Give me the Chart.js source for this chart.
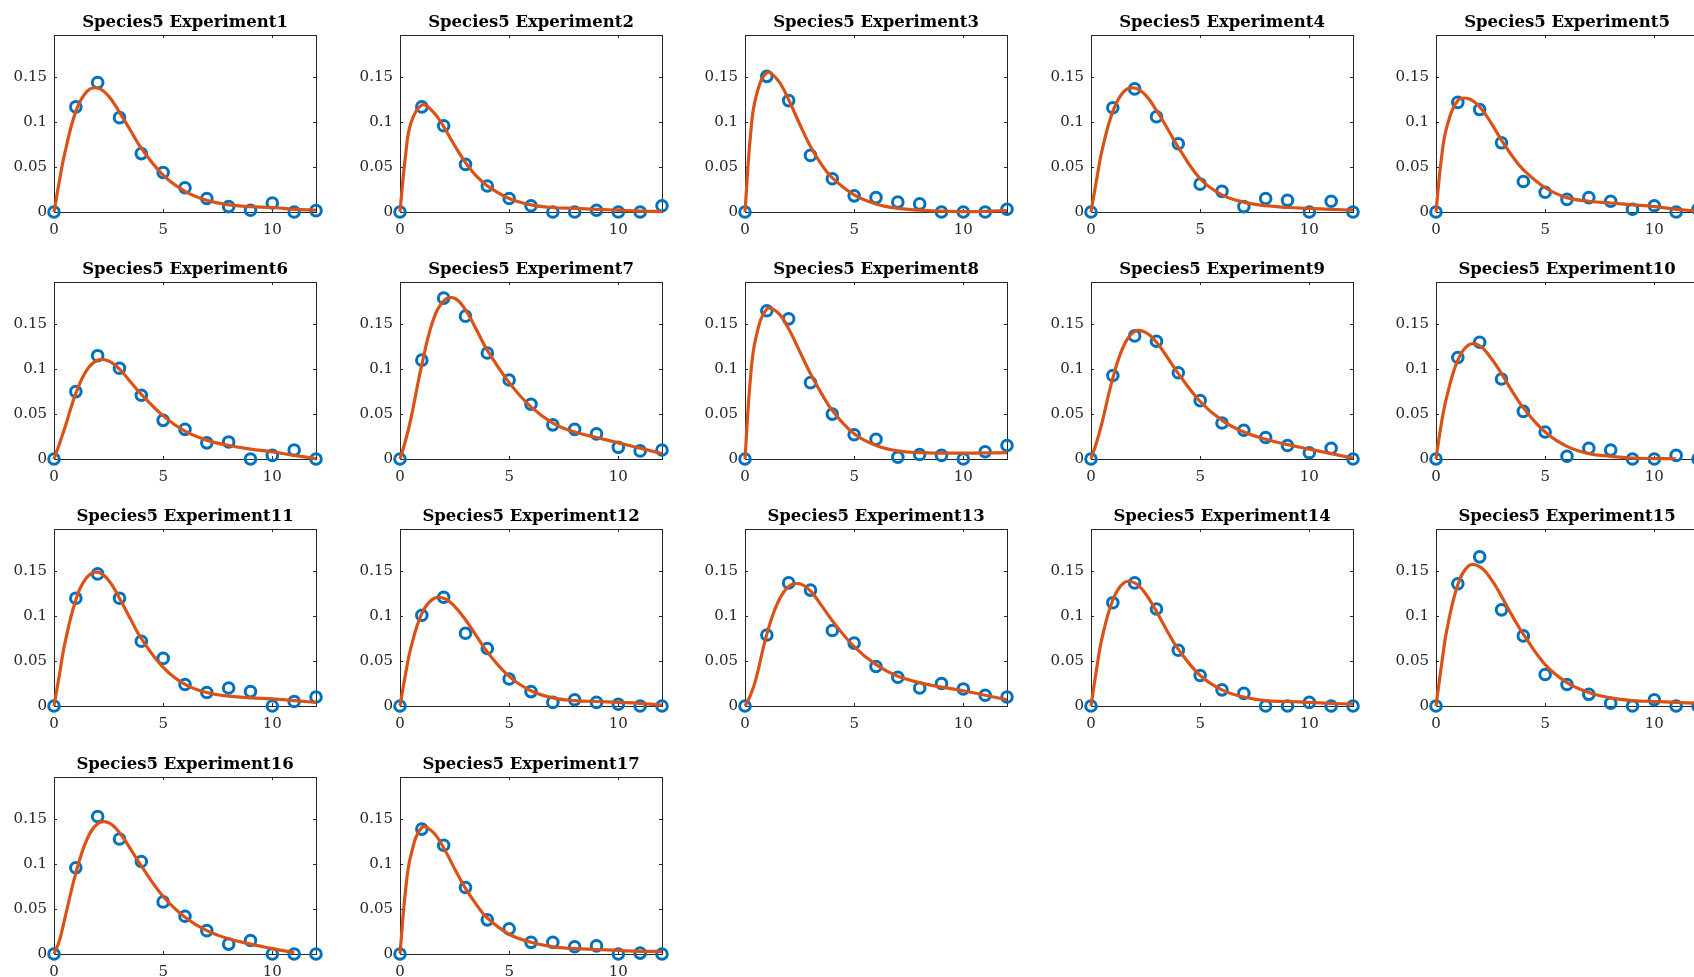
<!DOCTYPE html>
<html>
<head>
<meta charset="utf-8">
<script src="https://cdn.jsdelivr.net/npm/chart.js@4.4.0/dist/chart.umd.min.js"></script>
<style>
  html, body { margin: 0; padding: 0; background: #fff; overflow: hidden; }
  body { width: 1694px; height: 977px; position: relative; }
  canvas { position: absolute; }
</style>
</head>
<body>
<script>
// days of the measurements, and the days the fitted curve was read at
const days = [0, 1, 2, 3, 4, 5, 6, 7, 8, 9, 10, 11, 12];
const curveDays = [0, 0.25, 0.5, 1, 1.5, 2, 2.5, 3, 3.5, 4, 5, 6, 7, 8, 9, 10, 11, 12];
const xTicks = [0, 5, 10];
const yTicks = [0, 0.05, 0.1, 0.15];
const yMax = 0.197;

const titles = [
  "Species5 Experiment1", "Species5 Experiment2", "Species5 Experiment3",
  "Species5 Experiment4", "Species5 Experiment5", "Species5 Experiment6",
  "Species5 Experiment7", "Species5 Experiment8", "Species5 Experiment9",
  "Species5 Experiment10", "Species5 Experiment11", "Species5 Experiment12",
  "Species5 Experiment13", "Species5 Experiment14", "Species5 Experiment15",
  "Species5 Experiment16", "Species5 Experiment17"
];

// measured points (blue circles)
const obs1 = [0, 0.117, 0.144, 0.105, 0.065, 0.044, 0.027, 0.015, 0.006, 0.002, 0.010, 0, 0.0015];
const obs2 = [0, 0.117, 0.096, 0.053, 0.029, 0.015, 0.007, 0, 0, 0.002, 0, 0, 0.007];
const obs3 = [0, 0.151, 0.124, 0.063, 0.037, 0.018, 0.016, 0.011, 0.009, 0, 0, 0, 0.003];
const obs4 = [0, 0.116, 0.137, 0.106, 0.076, 0.031, 0.023, 0.006, 0.015, 0.013, 0, 0.012, 0];
const obs5 = [0, 0.122, 0.114, 0.077, 0.034, 0.022, 0.014, 0.016, 0.012, 0.003, 0.007, 0, 0.003];
const obs6 = [0, 0.075, 0.115, 0.101, 0.071, 0.043, 0.033, 0.018, 0.019, 0, 0.004, 0.010, 0];
const obs7 = [0, 0.110, 0.179, 0.159, 0.118, 0.088, 0.061, 0.038, 0.033, 0.028, 0.013, 0.009, 0.010];
const obs8 = [0, 0.165, 0.156, 0.085, 0.050, 0.027, 0.022, 0.002, 0.005, 0.004, 0, 0.008, 0.015];
const obs9 = [0, 0.093, 0.137, 0.131, 0.096, 0.065, 0.040, 0.032, 0.024, 0.015, 0.007, 0.012, 0];
const obs10 = [0, 0.113, 0.130, 0.089, 0.053, 0.030, 0.003, 0.012, 0.010, 0, 0, 0.004, 0];
const obs11 = [0, 0.120, 0.147, 0.120, 0.072, 0.053, 0.024, 0.015, 0.020, 0.016, 0, 0.005, 0.010];
const obs12 = [0, 0.101, 0.121, 0.081, 0.064, 0.030, 0.016, 0.004, 0.007, 0.004, 0.002, 0, 0];
const obs13 = [0, 0.079, 0.137, 0.129, 0.084, 0.070, 0.044, 0.032, 0.020, 0.025, 0.019, 0.012, 0.010];
const obs14 = [0, 0.115, 0.137, 0.108, 0.062, 0.034, 0.018, 0.014, 0, 0, 0.004, 0, 0];
const obs15 = [0, 0.136, 0.166, 0.107, 0.078, 0.035, 0.024, 0.013, 0.003, 0, 0.007, 0, 0];
const obs16 = [0, 0.096, 0.153, 0.128, 0.103, 0.058, 0.042, 0.026, 0.011, 0.015, 0, 0, 0];
const obs17 = [0, 0.139, 0.121, 0.074, 0.038, 0.028, 0.013, 0.013, 0.008, 0.009, 0, 0.001, 0];

// fitted curve (orange line), read at curveDays
const fit1 = [0, 0.035, 0.066, 0.112, 0.134, 0.138, 0.129, 0.111, 0.091, 0.071, 0.041, 0.023, 0.013, 0.008, 0.006, 0.005, 0.003, 0.002];
const fit2 = [0, 0.062, 0.099, 0.119, 0.112, 0.095, 0.074, 0.055, 0.040, 0.029, 0.015, 0.008, 0.005, 0.004, 0.003, 0.002, 0.001, 0.0005];
const fit3 = [0, 0.085, 0.128, 0.155, 0.147, 0.125, 0.098, 0.073, 0.053, 0.038, 0.019, 0.009, 0.004, 0.002, 0.001, 0.0005, 0.0008, 0.0015];
const fit4 = [0, 0.035, 0.068, 0.112, 0.134, 0.138, 0.130, 0.113, 0.093, 0.072, 0.037, 0.019, 0.011, 0.007, 0.005, 0.004, 0.003, 0.002];
const fit5 = [0, 0.060, 0.095, 0.124, 0.126, 0.117, 0.100, 0.080, 0.062, 0.047, 0.027, 0.016, 0.012, 0.010, 0.008, 0.006, 0.003, 0.001];
const fit6 = [0, 0.017, 0.035, 0.073, 0.099, 0.110, 0.109, 0.100, 0.086, 0.072, 0.048, 0.031, 0.021, 0.015, 0.011, 0.008, 0.004, 0.0005];
const fit7 = [0, 0.020, 0.045, 0.105, 0.153, 0.176, 0.179, 0.166, 0.144, 0.121, 0.085, 0.058, 0.040, 0.030, 0.024, 0.018, 0.012, 0.006];
const fit8 = [0, 0.090, 0.135, 0.167, 0.163, 0.145, 0.120, 0.095, 0.073, 0.054, 0.028, 0.015, 0.009, 0.007, 0.0065, 0.0065, 0.0068, 0.007];
const fit9 = [0, 0.018, 0.040, 0.090, 0.126, 0.142, 0.141, 0.130, 0.113, 0.095, 0.064, 0.043, 0.030, 0.022, 0.016, 0.011, 0.006, 0.001];
const fit10 = [0, 0.040, 0.070, 0.110, 0.127, 0.126, 0.113, 0.095, 0.075, 0.057, 0.030, 0.014, 0.006, 0.003, 0.001, 0.0005, 0.0003, null];
const fit11 = [0, 0.035, 0.070, 0.118, 0.143, 0.149, 0.140, 0.120, 0.097, 0.075, 0.043, 0.024, 0.015, 0.011, 0.009, 0.008, 0.006, 0.004];
const fit12 = [0, 0.035, 0.065, 0.103, 0.119, 0.120, 0.111, 0.096, 0.078, 0.060, 0.033, 0.017, 0.009, 0.006, 0.005, 0.004, 0.003, 0.001];
const fit13 = [0, 0.012, 0.030, 0.080, 0.115, 0.133, 0.136, 0.128, 0.112, 0.095, 0.066, 0.046, 0.033, 0.026, 0.021, 0.017, 0.012, 0.007];
const fit14 = [0, 0.040, 0.075, 0.118, 0.137, 0.137, 0.125, 0.105, 0.083, 0.063, 0.034, 0.018, 0.010, 0.006, 0.005, 0.004, 0.003, 0.002];
const fit15 = [0, 0.045, 0.085, 0.135, 0.156, 0.155, 0.142, 0.122, 0.100, 0.080, 0.046, 0.026, 0.015, 0.009, 0.006, 0.005, 0.004, 0.003];
const fit16 = [0, 0.015, 0.040, 0.090, 0.127, 0.145, 0.146, 0.135, 0.117, 0.098, 0.064, 0.041, 0.026, 0.017, 0.011, 0.006, 0.0015, null];
const fit17 = [0, 0.070, 0.110, 0.141, 0.136, 0.118, 0.095, 0.073, 0.055, 0.040, 0.022, 0.013, 0.008, 0.006, 0.005, 0.004, 0.003, 0.003];

const obsList = [obs1, obs2, obs3, obs4, obs5, obs6, obs7, obs8, obs9, obs10, obs11, obs12, obs13, obs14, obs15, obs16, obs17];
const fitList = [fit1, fit2, fit3, fit4, fit5, fit6, fit7, fit8, fit9, fit10, fit11, fit12, fit13, fit14, fit15, fit16, fit17];

const FONT = "'DejaVu Serif', 'Liberation Serif', serif";
Chart.defaults.font.family = FONT;
Chart.defaults.color = "#262626";

// box round the axes plus the small inward ticks, and the panel title
const boxPlugin = {
  id: "box",
  beforeDatasetsDraw(chart) {
    const ctx = chart.ctx;
    const a = chart.chartArea;
    const x = chart.scales.x, y = chart.scales.y;
    ctx.save();
    ctx.strokeStyle = "#262626";
    ctx.lineWidth = 1;
    ctx.beginPath();
    y.ticks.forEach(function (t) {
      const py = Math.round(y.getPixelForValue(t.value)) + 0.5;
      ctx.moveTo(a.left, py); ctx.lineTo(a.left + 3, py);
      ctx.moveTo(a.right, py); ctx.lineTo(a.right - 3, py);
    });
    x.ticks.forEach(function (t) {
      const px = Math.round(x.getPixelForValue(t.value)) + 0.5;
      ctx.moveTo(px, a.bottom); ctx.lineTo(px, a.bottom - 3);
      ctx.moveTo(px, a.top); ctx.lineTo(px, a.top + 3);
    });
    ctx.stroke();
    ctx.strokeRect(Math.round(a.left) + 0.5, Math.round(a.top) + 0.5,
      Math.round(a.right - a.left), Math.round(a.bottom - a.top));
    ctx.restore();
  },
  afterDraw(chart) {
    const ctx = chart.ctx;
    const a = chart.chartArea;
    ctx.save();
    ctx.font = "bold 16.5px " + FONT;
    ctx.fillStyle = "#000";
    ctx.textAlign = "center";
    ctx.textBaseline = "alphabetic";
    ctx.fillText(chart.options.panelTitle, (a.left + a.right) / 2, a.top - 8);
    ctx.restore();
  }
};

for (let i = 0; i < obsList.length; i++) {
  const col = i % 5, row = Math.floor(i / 5);
  const cv = document.createElement("canvas");
  cv.width = 330;
  cv.height = 242;
  cv.style.left = Math.round(col * 345.5) + "px";
  cv.style.top = Math.round(row * 247.2) + "px";
  document.body.appendChild(cv);

  const obs = obsList[i], fit = fitList[i];

  new Chart(cv.getContext("2d"), {
    type: "scatter",
    data: {
      datasets: [
        {
          label: "fit",
          data: curveDays.map(function (d, k) { return { x: d, y: fit[k] }; }),
          showLine: true,
          borderColor: "#D95319",
          borderWidth: 3.2,
          pointRadius: 0,
          tension: 0.4,
          clip: false,
          order: 0
        },
        {
          label: "data",
          data: days.map(function (d, k) { return { x: d, y: obs[k] }; }),
          showLine: false,
          pointStyle: "circle",
          pointRadius: 5.3,
          pointBorderWidth: 3,
          pointBorderColor: "#0072BD",
          pointBackgroundColor: "rgba(0,0,0,0)",
          clip: false,
          order: 1
        }
      ]
    },
    options: {
      panelTitle: titles[i],
      responsive: false,
      animation: false,
      events: [],
      layout: { padding: { top: 35, right: 14, left: 0, bottom: 0 } },
      scales: {
        x: {
          type: "linear",
          min: 0,
          max: 12,
          grid: { display: false, drawTicks: false },
          border: { display: false },
          afterBuildTicks: function (s) { s.ticks = xTicks.map(function (v) { return { value: v }; }); },
          afterFit: function (s) { s.height = 30; },
          ticks: { padding: 9, font: { size: 15 }, color: "#262626", maxRotation: 0 }
        },
        y: {
          type: "linear",
          min: 0,
          max: yMax,
          grid: { display: false, drawTicks: false },
          border: { display: false },
          afterBuildTicks: function (s) { s.ticks = yTicks.map(function (v) { return { value: v }; }); },
          afterFit: function (s) { s.width = 54; },
          ticks: {
            padding: 7,
            font: { size: 15 },
            color: "#262626",
            callback: function (v) { return String(Math.round(v * 100) / 100); }
          }
        }
      },
      plugins: {
        legend: { display: false },
        tooltip: { enabled: false },
        title: { display: false }
      }
    },
    plugins: [boxPlugin]
  });
}
</script>
</body>
</html>
